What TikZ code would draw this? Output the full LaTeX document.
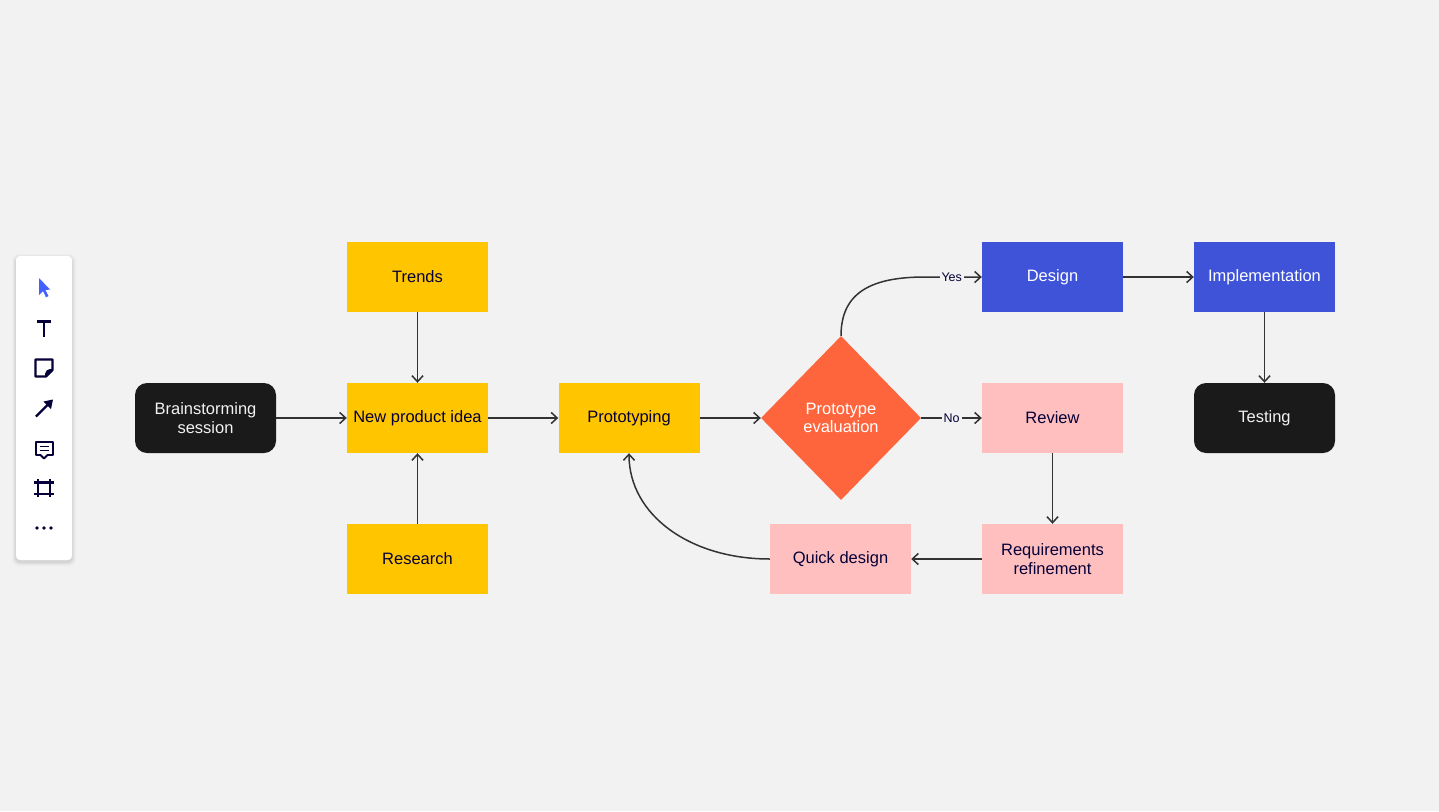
\documentclass[tikz,border=0pt]{standalone}
\usepackage{fontspec}
\setmainfont{Liberation Sans}
\usetikzlibrary{shapes.geometric,arrows.meta}
\definecolor{bg}{HTML}{F2F2F2}
\definecolor{ylw}{HTML}{FFC600}
\definecolor{org}{HTML}{FF653D}
\definecolor{blu}{HTML}{3F53D9}
\definecolor{pnk}{HTML}{FFBFBF}
\definecolor{blk}{HTML}{1A1A1A}
\definecolor{navy}{HTML}{050038}
\definecolor{lin}{HTML}{333333}
\definecolor{curs}{HTML}{4262FF}
\begin{document}
\begin{tikzpicture}[x=1pt,y=-1pt,
  every node/.style={font=\fontsize{16.5}{18.5}\selectfont},
  box/.style={rectangle,minimum width=141pt,minimum height=70pt,inner sep=0pt,align=center},
  yel/.style={box,fill=ylw,text=navy},
  pin/.style={box,fill=pnk,text=navy},
  bl/.style={box,fill=blu,text=white},
  term/.style={box,fill=blk,text=bg,rounded corners=12pt},
  conn/.style={draw=lin,line width=1.5pt,-{Straight Barb[length=6pt,width=11pt,line width=1.5pt]}},
  lbl/.style={fill=bg,text=navy,inner sep=2pt,font=\fontsize{12.5}{14}\selectfont},
  ico/.style={draw=navy,line width=2.2pt}]
\fill[bg] (0,0) rectangle (1439,811);
\useasboundingbox (0,0) rectangle (1439,811);
% toolbar
\foreach \o/\a in {4/0.015,3/0.025,2/0.035,1/0.045}
  \fill[black,opacity=\a,rounded corners=6pt] (16-\o,256-\o+2) rectangle (72+\o,560+\o+2);
\fill[white,rounded corners=4pt] (16,256) rectangle (72,560);
\fill[curs] (39,278) -- (50,289.5) -- (45.5,290) -- (48.5,296) -- (46,297.3) -- (43,291) -- (39,295) -- cycle;
\draw[ico] (37,321.5) -- (51,321.5) (44,321.5) -- (44,336.5);
\draw[ico,line join=round] (35.5,376.5) -- (35.5,359.5) -- (52.5,359.5) -- (52.5,370) -- (46,376.5) -- cycle;
\fill[navy] (52.5,369) -- (45,376.5) -- (45,374) .. controls (45,371) and (48,369) .. (50,369) -- cycle;
\draw[navy,line width=2.2pt] (36,416.5) -- (48,404.5);
\fill[navy] (53,399.5) -- (51,409) -- (43.5,401.5) -- cycle;
\draw[navy,line width=2pt,line join=round] (35.5,441.5) rectangle (52.5,455) ;
\fill[white] (41,453.8) rectangle (47,456.2);
\draw[navy,line width=1.8pt,line join=round] (40.5,455) -- (44,458.5) -- (47.5,455);
\draw[navy,line width=1.6pt] (39.5,446.5) -- (48.5,446.5) (39.5,450.5) -- (48.5,450.5);
\draw[ico] (38,479) -- (38,497) (50,479) -- (50,497) (34,482.5) -- (54,482.5) (34,494) -- (54,494);
\foreach \x in {37,44,51} \fill[navy] (\x,528) circle (1.9pt);
% nodes
\node[yel] (trends) at (417.5,277) {Trends};
\node[yel] (idea) at (417.5,418) {New product idea};
\node[yel] (research) at (417.5,559) {Research};
\node[term] (brain) at (205.5,418) {Brainstorming\\session};
\node[yel] (proto) at (629,418) {Prototyping};
\node[diamond,fill=org,text=white,inner sep=0pt,minimum width=160pt,minimum height=164pt,align=center] (eval) at (841,418) {Prototype\\evaluation};
\node[bl] (design) at (1052.5,277) {Design};
\node[bl] (impl) at (1264.5,277) {Implementation};
\node[term] (test) at (1264.5,418) {Testing};
\node[pin] (review) at (1052.5,418) {Review};
\node[pin] (req) at (1052.5,559) {Requirements\\refinement};
\node[pin] (quick) at (840.5,559) {Quick design};
% connectors
\draw[conn] (brain) -- (idea);
\draw[conn] (trends) -- (idea);
\draw[conn] (research) -- (idea);
\draw[conn] (idea) -- (proto);
\draw[conn] (proto) -- (eval);
\draw[conn] (eval.north) .. controls (841,292) and (872,277) .. (925,277) -- node[lbl,pos=0.47]{Yes} (design.west);
\draw[conn] (eval.east) -- node[lbl]{No} (review.west);
\draw[conn] (design) -- (impl);
\draw[conn] (impl) -- (test);
\draw[conn] (review) -- (req);
\draw[conn] (req) -- (quick);
\draw[conn] (quick.west) .. controls (690,559) and (629,515) .. (proto.south);
\end{tikzpicture}
\end{document}
